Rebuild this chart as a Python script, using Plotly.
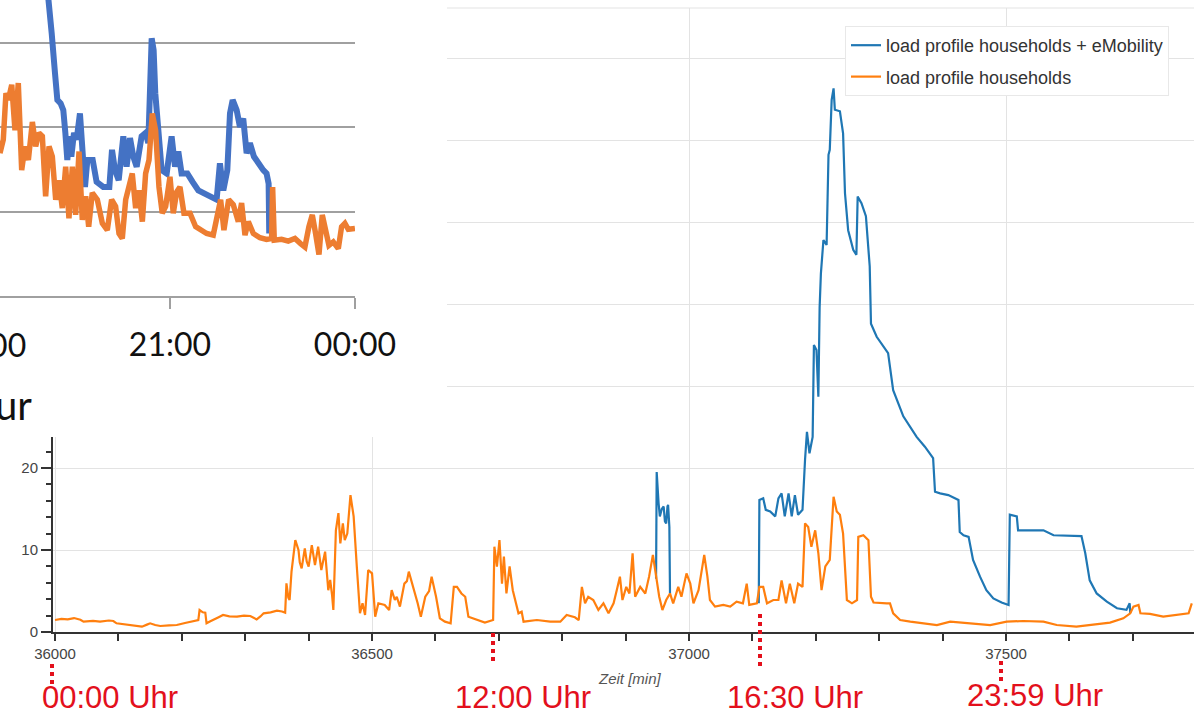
import plotly.graph_objects as go

W, H = 1194, 711

# ---------------- main chart data (Zeit [min] vs load) ----------------
house_x = [36000, 36010, 36020, 36030, 36040, 36045, 36060, 36071, 36085, 36092, 36097, 36110, 36118, 36130,
           36137, 36145, 36150, 36158, 36166, 36180, 36192, 36205, 36213, 36226, 36228, 36233, 36237, 36239,
           36245, 36250, 36258, 36265, 36275, 36287, 36298, 36308, 36314, 36318, 36324, 36329, 36340, 36350,
           36358, 36363, 36365, 36368, 36370, 36373, 36379, 36384, 36386, 36389, 36394, 36397, 36400, 36405,
           36410, 36415, 36420, 36426, 36431, 36434, 36437, 36439, 36443, 36447, 36450, 36454, 36457, 36461,
           36466, 36471, 36476, 36481, 36485, 36489, 36494, 36500, 36505, 36510, 36520, 36527, 36531, 36536,
           36539, 36544, 36551, 36555, 36558, 36565, 36572, 36577, 36584, 36590, 36594, 36601, 36607, 36615,
           36624, 36629, 36634, 36641, 36647, 36652, 36665, 36678, 36691, 36693, 36697, 36701, 36705, 36708,
           36712, 36717, 36722, 36726, 36731, 36736, 36739, 36760, 36781, 36797, 36807, 36820, 36826, 36831,
           36836, 36841, 36849, 36857, 36865, 36873, 36881, 36886, 36891, 36895, 36901, 36906, 36911, 36915,
           36923, 36931, 36937, 36943, 36947, 36953, 36958, 36964, 36970, 36975, 36983, 36988, 36996, 37002,
           37007, 37015, 37024, 37029, 37033, 37041, 37054, 37065, 37075, 37085, 37091, 37095, 37107, 37111,
           37117, 37123, 37133, 37141, 37146, 37153, 37159, 37166, 37172, 37179, 37183, 37188, 37193, 37199,
           37204, 37209, 37215, 37222, 37228, 37233, 37238, 37243, 37249, 37257, 37265, 37267, 37275, 37283,
           37287, 37291, 37312, 37317, 37322, 37333, 37349, 37370, 37391, 37412, 37430, 37454, 37475, 37501,
           37527, 37559, 37580, 37611, 37632, 37664, 37685, 37696, 37701, 37709, 37712, 37727, 37748, 37769,
           37788, 37793]
house_y = [1.46, 1.6, 1.55, 1.7, 1.5, 1.26, 1.35, 1.26, 1.4, 1.34, 1.06, 0.95, 0.85, 0.75,
           0.65, 0.9, 1.06, 0.85, 0.73, 0.8, 0.85, 1.1, 1.26, 1.46, 2.68, 2.4, 2.36, 1.06,
           1.3, 1.46, 1.8, 2.07, 1.9, 1.87, 2.0, 1.95, 1.7, 1.54, 1.9, 2.28, 2.4, 2.6,
           2.5, 2.36, 5.93, 4.2, 3.9, 7.36, 11.2, 10.0, 8.5, 7.76, 10.2, 8.6, 7.97, 10.6,
           8.17, 10.4, 7.56, 9.8, 5.1, 6.34, 4.5, 2.68, 12.4, 14.5, 10.8, 13.25, 11.2, 12.0,
           16.7, 14.1, 7.97, 2.28, 3.5, 2.07, 7.56, 7.15, 1.87, 3.5, 3.3, 2.68, 5.1, 3.9,
           4.3, 3.1, 5.9, 6.2, 7.36, 5.5, 3.5, 1.87, 4.3, 5.0, 6.75, 4.3, 1.67, 1.26,
           1.06, 5.5, 5.5, 4.7, 4.3, 1.87, 1.46, 1.14, 1.46, 10.4, 7.97, 11.2, 5.9, 9.2,
           4.7, 8.0, 5.1, 3.9, 2.28, 2.48, 1.26, 1.46, 1.26, 1.26, 2.07, 1.8, 1.46, 5.5,
           3.5, 4.3, 3.9, 2.68, 3.5, 2.28, 3.5, 5.1, 6.75, 3.9, 5.5, 4.7, 9.6, 4.3,
           5.5, 4.7, 6.75, 9.4, 7.15, 4.3, 2.68, 3.9, 4.7, 3.5, 5.5, 4.3, 7.15, 5.9,
           3.5, 5.1, 9.4, 6.75, 3.9, 3.1, 3.3, 3.1, 3.7, 3.5, 5.9, 3.3, 3.5, 5.5,
           5.5, 3.5, 3.9, 3.9, 6.3, 3.5, 5.9, 3.5, 5.9, 5.5, 13.25, 12.8, 10.4, 12.4,
           9.6, 5.1, 8.0, 8.8, 16.5, 14.7, 14.3, 12.0, 3.9, 3.5, 3.9, 11.6, 11.8, 11.2,
           4.3, 3.6, 3.5, 3.5, 2.28, 1.46, 1.26, 1.06, 0.85, 1.26, 1.14, 0.98, 0.85, 1.26,
           1.34, 1.26, 0.85, 0.65, 0.85, 1.14, 1.67, 2.28, 3.1, 3.3, 2.28, 2.2, 1.87, 2.07,
           2.28, 3.5]

# households + eMobility: only the charging episodes differ from the households curve
emob_x = [36948, 36949, 36952, 36954, 36957, 36960, 36962, 36964, 36966, 36967, 36969, 36970, None,
          37110, 37111, 37117, 37121, 37128, 37136, 37141, 37146, 37151, 37157, 37162, 37167, 37172,
          37179, 37183, 37186, 37190, 37195, 37197, 37201, 37204, 37206, 37208, 37210, 37212, 37217,
          37220, 37222, 37225, 37228, 37230, 37238, 37243, 37246, 37251, 37259, 37264, 37266, 37272,
          37279, 37283, 37285, 37287, 37296, 37314, 37322, 37338, 37359, 37372, 37385, 37388, 37396,
          37409, 37425, 37427, 37433, 37441, 37448, 37459, 37469, 37480, 37493, 37504, 37506, 37517,
          37519, 37538, 37559, 37575, 37601, 37619, 37625, 37632, 37643, 37659, 37675, 37690, 37695,
          37696]
emob_y = [6.5, 19.5, 15.7, 14.1, 15.0, 15.3, 13.5, 13.25, 15.3, 15.5, 12.8, 4.7, None,
          3.5, 16.1, 16.3, 14.9, 14.7, 14.1, 16.3, 16.9, 14.1, 16.9, 14.1, 16.7, 14.3,
          14.9, 21.0, 24.4, 21.8, 23.8, 35.0, 34.4, 28.7, 39.6, 43.7, 45.4, 47.8, 47.2,
          58.2, 58.8, 64.9, 66.3, 63.7, 63.5, 60.8, 53.5, 49.0, 46.6, 46.0, 53.1, 52.3,
          50.7, 46.2, 44.6, 37.6, 36.0, 34.0, 29.5, 26.3, 23.8, 22.6, 21.2, 17.1, 16.9,
          16.7, 16.1, 12.2, 11.8, 11.6, 8.8, 6.75, 5.1, 4.1, 3.6, 3.3, 14.3, 14.1,
          12.4, 12.4, 12.4, 11.8, 11.75, 11.7, 9.6, 6.3, 4.7, 3.7, 2.9, 2.7, 3.5,
          2.3]

main_xticks = [36000, 36500, 37000, 37500]

# ---------------- inset chart data (minutes after 18:00) ----------------
inset_house_min = [14.6, 17.8, 20.4, 22.7, 26.0, 29.2, 32.4, 35.7, 38.9, 42.2, 46.1, 49.3, 52.5, 55.8,
                   59.0, 62.3, 65.5, 68.8, 72.0, 75.2, 78.5, 81.7, 85.0, 88.2, 91.5, 94.7, 98.0, 100.9,
                   104.4, 109.3, 114.2, 119.0, 123.2, 127.1, 130.4, 133.6, 136.9, 140.1, 143.3, 146.6,
                   149.8, 153.1, 156.3, 159.6, 162.8, 166.0, 169.3, 172.5, 175.8, 180.0, 183.2, 186.5,
                   189.7, 193.6, 199.5, 205.0, 209.8, 215.7, 222.1, 226.0, 229.3, 232.5, 237.1, 241.6,
                   246.5, 249.7, 253.0, 256.2, 261.1, 267.6, 274.0, 278.9, 279.9, 281.5, 288.6, 295.1,
                   301.6, 307.1, 311.3, 315.2, 318.5, 321.7, 325.0, 328.2, 331.4, 334.7, 338.9, 343.8,
                   347.0, 350.2, 353.5, 360.0]
inset_house_kw = [16.9, 18.5, 24.0, 23.2, 25.0, 19.6, 25.2, 14.9, 17.7, 16.1, 20.6, 17.7, 19.3, 18.9,
                  11.8, 17.7, 16.5, 11.4, 13.7, 10.4, 15.3, 9.2, 15.3, 9.6, 17.1, 9.0, 11.8, 8.2,
                  12.2, 11.4, 8.6, 7.8, 11.4, 10.6, 7.4, 6.8, 11.4, 13.1, 14.5, 10.4,
                  12.5, 8.8, 14.5, 16.1, 21.6, 19.6, 12.9, 9.8, 10.6, 14.1, 9.8, 12.3,
                  12.9, 9.8, 9.8, 8.2, 7.8, 7.4, 7.2, 9.4, 11.4, 7.8, 11.4, 10.8,
                  8.8, 11.0, 7.2, 8.8, 7.4, 6.9, 6.7, 6.8, 12.9, 6.6, 6.7, 6.5,
                  6.8, 6.2, 5.8, 8.2, 9.6, 7.4, 4.9, 9.6, 7.8, 6.0, 6.4, 5.6,
                  8.2, 8.6, 7.9, 8.0]
inset_emob_min = [59.0, 62.6, 64.9, 68.1, 70.4, 73.6, 76.2, 78.2, 80.1, 82.1, 84.0, 86.6, 89.2, 92.4,
                  94.7, 97.3, 99.6, 104.8, 108.6, 115.1, 121.0, 123.6, 126.5, 130.1, 134.6, 137.8,
                  141.1, 144.3, 147.6, 152.4, 156.3, 158.9, 162.2, 164.1, 165.7, 168.6, 171.9, 176.8,
                  181.6, 184.9, 188.1, 191.3, 196.9, 202.0, 207.6, 215.7, 225.4, 228.6, 231.9, 235.8,
                  238.4, 241.0, 244.9, 248.1, 251.3, 254.6, 257.8, 261.7, 265.9, 270.8, 274.0, 276.0,
                  276.6]
inset_emob_kw = [38.5, 32.7, 31.1, 26.4, 23.2, 22.8, 22.0, 19.3, 16.1, 18.9, 16.5, 19.3, 18.5, 21.6,
                 17.3, 12.9, 16.1, 16.1, 13.5, 12.9, 12.9, 17.3, 14.9, 13.7, 18.9, 15.3,
                 18.7, 16.5, 15.3, 18.9, 19.3, 18.1, 30.5, 29.1, 24.0, 19.3, 14.9, 14.5,
                 18.9, 15.3, 17.1, 14.5, 14.5, 13.5, 12.5, 12.0, 11.4, 15.7, 12.5, 14.9,
                 21.6, 23.2, 22.0, 20.0, 21.0, 16.9, 18.1, 16.5, 15.7, 14.9, 14.5, 13.3,
                 7.4]
inset_tickvals = [180, 360]
inset_ticktext = ["21:00", "00:00"]

marker_labels = ["00:00 Uhr", "12:00 Uhr", "16:30 Uhr", "23:59 Uhr"]


def px(x):
    return x / W


def py(y):
    return 1 - y / H


fig = go.Figure()

# main chart
fig.add_trace(go.Scatter(x=emob_x, y=emob_y, mode="lines", name="load profile households + eMobility",
                         legendgroup="emob", line=dict(color="#1f77b4", width=2.2), connectgaps=False))
fig.add_trace(go.Scatter(x=house_x, y=house_y, mode="lines", name="load profile households",
                         legendgroup="house", line=dict(color="#ff7f0e", width=2.2)))

# white cover for the pasted inset picture
fig.add_trace(go.Scatter(x=[None], y=[None], xaxis="x2", yaxis="y2", showlegend=False, hoverinfo="skip"))

# inset chart
fig.add_trace(go.Scatter(x=inset_emob_min, y=inset_emob_kw, xaxis="x3", yaxis="y3", mode="lines",
                         showlegend=False, line=dict(color="#4472c4", width=6)))
fig.add_trace(go.Scatter(x=inset_house_min, y=inset_house_kw, xaxis="x3", yaxis="y3", mode="lines",
                         showlegend=False, line=dict(color="#ed7d31", width=5.5)))

tickfont = dict(family="Liberation Sans, Arial, sans-serif", size=15, color="#444")

annotations = [
    dict(text="<i>Zeit [min]</i>", x=px(630), y=py(678), xref="paper", yref="paper", showarrow=False,
         font=dict(family="Liberation Sans, Arial", size=15, color="#555"), xanchor="center", yanchor="middle"),
    dict(text="18:00", x=px(-15), y=py(344), xref="paper", yref="paper", showarrow=False,
         font=dict(family="Lato", size=32, color="#111"), xanchor="center", yanchor="middle"),
    dict(text="ur", x=px(34), y=py(405), xref="paper", yref="paper", showarrow=False,
         font=dict(family="Lato", size=40, color="#111"), xanchor="right", yanchor="middle"),
]
label_pos = [(40, 697), (453, 697), (725, 697), (965, 695)]
for txt, (lx, ly) in zip(marker_labels, label_pos):
    annotations.append(dict(text=txt, x=px(lx), y=py(ly), xref="paper", yref="paper", showarrow=False,
                            font=dict(family="Liberation Sans, Arial", size=31, color="#e3101c"),
                            xanchor="left", yanchor="middle"))

shapes = [
    dict(type="line", xref="paper", yref="paper", x0=px(53), x1=1, y0=py(8), y1=py(8),
         line=dict(color="#e3e3e3", width=1), layer="below"),
]
marker_lines = [(52, 664, 684), (493, 633, 663), (760, 614, 668), (1001, 661, 684)]
for mx, y0, y1 in marker_lines:
    shapes.append(dict(type="line", xref="paper", yref="paper", x0=px(mx), x1=px(mx), y0=py(y0), y1=py(y1),
                       line=dict(color="#e3101c", width=4, dash="4px,4px"), layer="above"))

fig.update_layout(
    width=W, height=H,
    margin=dict(l=0, r=0, t=0, b=0),
    paper_bgcolor="white", plot_bgcolor="white",
    showlegend=True,
    legend=dict(x=px(845), y=py(26), xanchor="left", yanchor="top", bgcolor="white",
                bordercolor="#e8e8e8", borderwidth=1, tracegroupgap=5,
                font=dict(family="Liberation Sans, Arial", size=18, color="#333")),
    xaxis=dict(domain=[px(53), 1], range=[35996.8, 37796.5], tickvals=main_xticks, tickformat="d",
               ticks="outside", ticklen=7, tickwidth=1.5, tickcolor="#333",
               showline=True, linecolor="#333", linewidth=2, showgrid=True, gridcolor="#e3e3e3",
               zeroline=False, tickfont=tickfont, anchor="y", automargin=False,
               minor=dict(dtick=100, tick0=36000, ticks="outside", ticklen=7, tickwidth=1.5,
                          tickcolor="#333", showgrid=False)),
    yaxis=dict(domain=[py(632), py(8)], range=[0, 76.1], dtick=10, tick0=0,
               ticks="outside", ticklen=10, tickwidth=1.5, tickcolor="#333",
               showline=True, linecolor="#333", linewidth=2, showgrid=True, gridcolor="#e3e3e3",
               zeroline=False, tickfont=tickfont, anchor="x", automargin=False,
               minor=dict(dtick=2, tick0=0, ticks="outside", ticklen=5, tickwidth=1.5,
                          tickcolor="#333", showgrid=False)),
    xaxis2=dict(domain=[0, px(447)], range=[0, 1], visible=False, anchor="y2", fixedrange=True),
    yaxis2=dict(domain=[py(437), 1], range=[0, 1], visible=False, anchor="x2", fixedrange=True),
    xaxis3=dict(domain=[0, px(355)], range=[14.6, 360.05], anchor="y3", tickvals=inset_tickvals,
                ticktext=inset_ticktext, ticks="outside", ticklen=11, tickwidth=1.5, tickcolor="#a0a0a0",
                showline=True, linecolor="#a0a0a0", linewidth=1.5, showgrid=False, zeroline=False,
                ticklabelstandoff=9,
                tickfont=dict(family="Lato", size=32, color="#111"), automargin=False),
    yaxis3=dict(domain=[py(296), 1], range=[0, 35.03], anchor="x3", tickvals=[10, 20, 30],
                showticklabels=False, ticks="", showline=False, showgrid=True, gridcolor="#a0a0a0",
                gridwidth=1.5, zeroline=False, automargin=False),
    annotations=annotations,
    shapes=shapes,
)

fig.write_html("out.html", config={"displayModeBar": False},
               post_script="document.body.style.margin='0';document.body.style.overflow='hidden';")
